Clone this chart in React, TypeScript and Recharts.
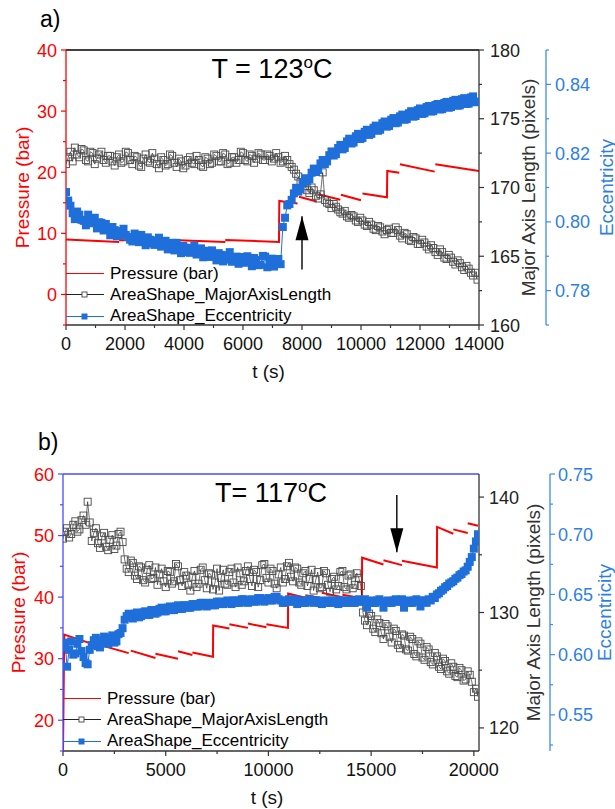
import React from 'react';
import { ComposedChart, Line, XAxis, YAxis, ReferenceLine, ReferenceDot, Legend } from 'recharts';

const RED = '#ff0000';
const DOT_BLUE = '#1f6fdb';
const ECC_BLUE = '#3d8ce8';
const ECC_TEXT = '#2c7fe6';
const DARK = '#333333';
const FRAME_BLUE = '#4b4bff';
const FONT = '"Liberation Sans", Arial, Helvetica, sans-serif';

// ---------- a) T = 123 ºC ----------
const timeA = [
  0, 75, 150, 225, 300, 375, 450, 525, 600, 675, 750, 825, 900, 975, 1050, 1125, 1200, 1275, 1350, 1425,
  1500, 1575, 1650, 1725, 1800, 1875, 1950, 2025, 2100, 2175, 2250, 2325, 2400, 2475, 2550, 2625, 2700, 2775, 2850, 2925,
  3000, 3075, 3150, 3225, 3300, 3375, 3450, 3525, 3600, 3675, 3750, 3825, 3900, 3975, 4050, 4125, 4200, 4275, 4350, 4425,
  4500, 4575, 4650, 4725, 4800, 4875, 4950, 5025, 5100, 5175, 5250, 5325, 5400, 5475, 5550, 5625, 5700, 5775, 5850, 5925,
  6000, 6075, 6150, 6225, 6300, 6375, 6450, 6525, 6600, 6675, 6750, 6825, 6900, 6975, 7050, 7125, 7200, 7275, 7350, 7425,
  7500, 7575, 7650, 7725, 7800, 7875, 7950, 8025, 8100, 8175, 8250, 8325, 8400, 8475, 8550, 8625, 8700, 8775, 8850, 8925,
  9000, 9075, 9150, 9225, 9300, 9375, 9450, 9525, 9600, 9675, 9750, 9825, 9900, 9975, 10050, 10125, 10200, 10275, 10350, 10425,
  10500, 10575, 10650, 10725, 10800, 10875, 10950, 11025, 11100, 11175, 11250, 11325, 11400, 11475, 11550, 11625, 11700, 11775, 11850, 11925,
  12000, 12075, 12150, 12225, 12300, 12375, 12450, 12525, 12600, 12675, 12750, 12825, 12900, 12975, 13050, 13125, 13200, 13275, 13350, 13425,
  13500, 13575, 13650, 13725, 13800, 13875, 13950,
];
const lengthA = [
  171.7, 172.2, 172.6, 171.9, 172.9, 172.4, 172.2, 172.8, 172.7, 172.0, 171.9, 172.6, 172.5, 171.7, 172.1, 172.4, 172.6, 172.0, 171.8, 172.3,
  172.3, 171.9, 171.6, 172.2, 172.4, 171.8, 171.9, 172.6, 172.5, 172.0, 171.7, 172.3, 172.2, 171.6, 171.5, 172.1, 172.4, 171.9, 171.8, 172.5,
  172.1, 171.7, 171.4, 172.2, 172.0, 171.6, 171.7, 172.4, 172.3, 171.8, 171.5, 172.1, 171.9, 171.4, 171.6, 172.0, 172.2, 171.8, 171.7, 172.3,
  172.0, 171.6, 171.5, 172.2, 172.1, 171.7, 171.8, 172.4, 172.3, 171.9, 171.9, 172.5, 172.4, 171.7, 171.8, 172.2, 172.2, 171.8, 172.0, 172.6,
  172.5, 172.0, 171.9, 172.4, 172.3, 171.8, 172.1, 172.5, 172.4, 172.0, 172.0, 172.4, 172.3, 171.9, 172.1, 172.5, 172.2, 171.8, 171.9, 172.3,
  172.0, 171.7, 171.5, 171.3, 171.0, 170.8, 170.4, 170.3, 170.1, 169.8, 169.6, 170.0, 169.8, 169.4, 169.2, 169.5, 171.1, 169.1, 168.9, 168.8,
  168.5, 168.8, 168.6, 168.4, 168.2, 168.1, 168.3, 167.9, 167.8, 168.0, 167.9, 167.6, 167.5, 167.8, 167.6, 167.3, 167.2, 167.5, 167.3, 167.0,
  166.9, 167.2, 167.1, 166.8, 166.6, 166.9, 167.0, 166.7, 166.7, 167.1, 166.9, 166.5, 166.3, 166.7, 166.6, 166.2, 166.1, 166.4, 166.3, 165.9,
  165.9, 166.2, 166.0, 165.7, 165.5, 165.8, 165.6, 165.3, 165.1, 165.5, 165.3, 164.9, 164.8, 165.1, 164.9, 164.6, 164.4, 164.7, 164.5, 164.2,
  164.0, 164.3, 164.1, 163.8, 163.6, 163.8, 163.3,
];
const eccA = [
  0.8087, 0.8062, 0.8047, 0.8025, 0.8008, 0.803, 0.8021, 0.8006, 0.8003, 0.799, 0.8021, 0.801, 0.7996, 0.8012, 0.7981, 0.7999, 0.7997, 0.7975, 0.7994, 0.7978,
  0.7961, 0.7985, 0.7976, 0.7958, 0.796, 0.7973, 0.798, 0.7962, 0.7956, 0.7948, 0.7943, 0.7966, 0.7962, 0.7941, 0.7962, 0.795, 0.7932, 0.7955, 0.7948, 0.7937,
  0.7933, 0.7946, 0.7954, 0.7928, 0.7933, 0.7945, 0.792, 0.7931, 0.7939, 0.7917, 0.7939, 0.7926, 0.7909, 0.793, 0.7925, 0.7912, 0.791, 0.7924, 0.7931, 0.7905,
  0.791, 0.7923, 0.7897, 0.7908, 0.7916, 0.7898, 0.7917, 0.7902, 0.7888, 0.7909, 0.7904, 0.7885, 0.789, 0.7903, 0.7912, 0.7884, 0.7891, 0.7899, 0.7878, 0.7893,
  0.7898, 0.7881, 0.79, 0.7887, 0.7871, 0.7895, 0.7889, 0.7874, 0.7875, 0.7901, 0.7899, 0.7868, 0.788, 0.7893, 0.787, 0.7884, 0.7892, 0.7877, 0.7985, 0.8012,
  0.8048, 0.8052, 0.8064, 0.8083, 0.8099, 0.8088, 0.8095, 0.8115, 0.8127, 0.8117, 0.8124, 0.8143, 0.8155, 0.8145, 0.8151, 0.817, 0.818, 0.8168, 0.8176, 0.8194,
  0.8205, 0.8193, 0.8197, 0.8215, 0.8224, 0.8211, 0.8215, 0.8234, 0.8242, 0.8228, 0.8231, 0.8249, 0.8256, 0.8241, 0.8244, 0.8262, 0.8268, 0.8253, 0.8256, 0.8274,
  0.828, 0.8265, 0.8268, 0.8287, 0.8292, 0.8277, 0.8279, 0.8297, 0.8302, 0.8287, 0.8289, 0.8307, 0.8312, 0.8297, 0.8299, 0.8316, 0.8322, 0.8306, 0.8308, 0.8325,
  0.833, 0.8314, 0.8316, 0.8334, 0.8337, 0.8321, 0.8322, 0.834, 0.8343, 0.8327, 0.8328, 0.8346, 0.8349, 0.8332, 0.8334, 0.8352, 0.8355, 0.8338, 0.8339, 0.8357,
  0.836, 0.8343, 0.8344, 0.8362, 0.8365, 0.8348, 0.835,
];
// null breaks the pressure trace between the sawtooth pieces
const presTimeA = [
  0, 1800, 1800, 1800, 3600, 3600, 3600, 5400, 5400, 5400, 7220, 7230, 7850, 7850, 7900, 8500, 8500,
  8550, 9300, 9300, 9320, 10000, 10000, 10050, 10880, 10890, 11300, 11300, 11320, 12500, 12500, 12520, 14000,
];
const presA = [
  9.0, 8.6, null, 8.9, 8.5, null, 8.9, 8.6, null, 8.9, 8.6, 15.3, 14.9, null, 16.0, 15.2, null,
  16.4, 15.5, null, 16.3, 15.4, null, 16.5, 15.9, 20.2, 19.9, null, 21.3, 20.1, null, 21.3, 20.2,
];
const xTicksA = [0, 1000, 2000, 3000, 4000, 5000, 6000, 7000, 8000, 9000, 10000, 11000, 12000, 13000, 14000];
const xLabelsA = [0, 2000, 4000, 6000, 8000, 10000, 12000, 14000];
const presTicksA = [-5, 0, 5, 10, 15, 20, 25, 30, 35, 40];
const presLabelsA = [0, 10, 20, 30, 40];
const lenTicksA = [160, 162.5, 165, 167.5, 170, 172.5, 175, 177.5, 180];
const lenLabelsA = [160, 165, 170, 175, 180];
const eccTicksA = [0.77, 0.78, 0.79, 0.8, 0.81, 0.82, 0.83, 0.84, 0.85];
const eccLabelsA = [0.78, 0.8, 0.82, 0.84];

// ---------- b) T = 117 ºC ----------
const timeB = [
  0, 100, 200, 300, 400, 500, 600, 700, 800, 900, 1000, 1100, 1200, 1300, 1400, 1500, 1600, 1700, 1800, 1900,
  2000, 2100, 2200, 2300, 2400, 2500, 2600, 2700, 2800, 2900, 3000, 3100, 3200, 3300, 3400, 3500, 3600, 3700, 3800, 3900,
  4000, 4100, 4200, 4300, 4400, 4500, 4600, 4700, 4800, 4900, 5000, 5100, 5200, 5300, 5400, 5500, 5600, 5700, 5800, 5900,
  6000, 6100, 6200, 6300, 6400, 6500, 6600, 6700, 6800, 6900, 7000, 7100, 7200, 7300, 7400, 7500, 7600, 7700, 7800, 7900,
  8000, 8100, 8200, 8300, 8400, 8500, 8600, 8700, 8800, 8900, 9000, 9100, 9200, 9300, 9400, 9500, 9600, 9700, 9800, 9900,
  10000, 10100, 10200, 10300, 10400, 10500, 10600, 10700, 10800, 10900, 11000, 11100, 11200, 11300, 11400, 11500, 11600, 11700, 11800, 11900,
  12000, 12100, 12200, 12300, 12400, 12500, 12600, 12700, 12800, 12900, 13000, 13100, 13200, 13300, 13400, 13500, 13600, 13700, 13800, 13900,
  14000, 14100, 14200, 14300, 14400, 14500, 14600, 14700, 14800, 14900, 15000, 15100, 15200, 15300, 15400, 15500, 15600, 15700, 15800, 15900,
  16000, 16100, 16200, 16300, 16400, 16500, 16600, 16700, 16800, 16900, 17000, 17100, 17200, 17300, 17400, 17500, 17600, 17700, 17800, 17900,
  18000, 18100, 18200, 18300, 18400, 18500, 18600, 18700, 18800, 18900, 19000, 19100, 19200, 19300, 19400, 19500, 19600, 19700, 19800, 19900,
  20000, 20100, 20200,
];
const lengthB = [
  136.4, 137.0, 137.3, 136.5, 136.8, 137.6, 137.9, 137.0, 137.2, 138.0, 138.4, 137.6, 139.6, 137.8, 136.2, 136.9, 137.3, 136.0, 135.6, 136.6,
  136.9, 135.7, 135.4, 136.3, 136.7, 135.5, 135.8, 136.8, 137.0, 136.1, 134.6, 133.8, 133.5, 134.5, 134.3, 133.2, 132.9, 134.0, 133.9, 132.8,
  132.6, 133.7, 134.1, 132.9, 133.0, 133.9, 132.4, 133.3, 133.8, 132.7, 132.2, 133.6, 133.5, 132.5, 132.7, 134.2, 134.0, 132.8, 132.3, 133.5,
  133.2, 132.4, 131.9, 133.1, 133.6, 132.2, 132.5, 133.7, 133.9, 132.8, 132.1, 133.4, 133.3, 132.0, 132.6, 133.8, 131.9, 133.0, 133.7, 132.5,
  132.4, 133.5, 133.8, 132.6, 132.2, 133.9, 133.4, 132.4, 132.7, 133.6, 134.0, 132.9, 132.3, 133.7, 133.5, 132.2, 132.8, 134.1, 134.2, 133.0,
  132.6, 133.8, 133.6, 132.5, 132.1, 133.3, 133.9, 132.6, 132.9, 134.0, 134.3, 133.1, 132.7, 133.9, 133.8, 132.6, 132.4, 133.4, 133.6, 132.3,
  132.9, 133.7, 131.9, 132.8, 133.5, 132.1, 132.2, 133.6, 133.4, 132.4, 131.8, 132.9, 133.1, 132.0, 132.3, 133.5, 133.6, 132.2, 132.0, 133.2,
  133.3, 132.1, 132.4, 133.4, 133.0, 132.3, 130.0, 129.3, 128.9, 129.9, 129.7, 128.6, 128.3, 129.4, 129.1, 128.2, 127.7, 129.0, 128.8, 127.9,
  127.4, 128.6, 128.4, 127.2, 126.9, 128.1, 128.0, 126.8, 126.7, 127.9, 127.7, 126.4, 126.2, 127.5, 127.3, 126.1, 125.9, 127.0, 126.8, 125.7,
  125.5, 126.5, 126.2, 125.3, 125.1, 126.0, 125.8, 124.9, 124.7, 125.6, 125.3, 124.5, 124.4, 125.2, 125.0, 124.1, 124.2, 124.9, 124.6, 124.0,
  123.1, 123.4, 122.7,
];
const eccB = [
  0.606, 0.61, 0.59, 0.604, 0.611, 0.6, 0.601, 0.609, 0.613, 0.603, 0.598, 0.593, 0.592, 0.604, 0.608, 0.612, 0.614, 0.607, 0.606, 0.612,
  0.615, 0.61, 0.609, 0.614, 0.616, 0.61, 0.611, 0.617, 0.618, 0.622, 0.629, 0.632, 0.634, 0.631, 0.63, 0.634, 0.635, 0.631, 0.632, 0.635,
  0.636, 0.633, 0.633, 0.637, 0.637, 0.634, 0.635, 0.638, 0.639, 0.636, 0.636, 0.639, 0.64, 0.637, 0.637, 0.64, 0.641, 0.638, 0.638, 0.641,
  0.641, 0.639, 0.639, 0.642, 0.642, 0.64, 0.64, 0.643, 0.643, 0.641, 0.64, 0.643, 0.643, 0.641, 0.641, 0.644, 0.644, 0.642, 0.642, 0.644,
  0.645, 0.643, 0.642, 0.645, 0.645, 0.643, 0.643, 0.646, 0.646, 0.644, 0.643, 0.645, 0.646, 0.644, 0.644, 0.647, 0.647, 0.645, 0.644, 0.646,
  0.647, 0.645, 0.645, 0.648, 0.648, 0.646, 0.645, 0.643, 0.643, 0.645, 0.646, 0.644, 0.644, 0.646, 0.642, 0.644, 0.645, 0.643, 0.643, 0.645,
  0.646, 0.644, 0.643, 0.645, 0.645, 0.643, 0.642, 0.644, 0.645, 0.643, 0.643, 0.645, 0.645, 0.643, 0.642, 0.645, 0.645, 0.643, 0.643, 0.645,
  0.645, 0.643, 0.643, 0.645, 0.646, 0.644, 0.644, 0.646, 0.639, 0.644, 0.645, 0.643, 0.643, 0.645, 0.646, 0.644, 0.639, 0.644, 0.645, 0.643,
  0.643, 0.645, 0.646, 0.644, 0.644, 0.646, 0.639, 0.644, 0.645, 0.643, 0.643, 0.645, 0.646, 0.644, 0.64, 0.645, 0.645, 0.643, 0.646, 0.645,
  0.648, 0.647, 0.65, 0.651, 0.653, 0.654, 0.656, 0.657, 0.659, 0.66, 0.661, 0.663, 0.664, 0.666, 0.667, 0.669, 0.67, 0.673, 0.677, 0.681,
  0.688, 0.694, 0.7,
];
const presTimeB = [
  0, 60, 1600, 1600, 1600, 3200, 3200, 3300, 4500, 4500, 4500, 5600, 5600, 5600, 6300, 6300, 6300, 7300, 7310,
  8100, 8100, 8100, 9000, 9000, 9000, 9900, 9900, 9900, 10950, 10960, 11800, 11800, 11800, 12600, 12600, 12600,
  13600, 13600, 13600, 14550, 14560, 15600, 15600, 15600, 16500, 16500, 16500, 18200, 18210, 19000, 19000, 19000,
  19700, 19700, 19700, 20200,
];
const presB = [
  15.0, 33.9, 32.2, null, 32.4, 30.9, null, 31.3, 30.1, null, 30.8, 30.0, null, 31.2, 30.6, null, 31.0, 30.3, 35.4,
  34.9, null, 35.6, 35.0, null, 35.7, 35.1, null, 35.6, 35.0, 40.6, 39.9, null, 40.3, 39.8, null, 40.7,
  40.0, null, 40.4, 39.8, 46.4, 45.3, null, 46.0, 45.2, null, 45.9, 44.8, 51.4, 50.3, null, 51.0,
  50.4, null, 52.0, 51.6,
];
const xTicksB = [0, 2500, 5000, 7500, 10000, 12500, 15000, 17500, 20000];
const xLabelsB = [0, 5000, 10000, 15000, 20000];
const presTicksB = [15, 20, 25, 30, 35, 40, 45, 50, 55, 60];
const presLabelsB = [20, 30, 40, 50, 60];
const lenTicksB = [120, 125, 130, 135, 140];
const lenLabelsB = [120, 130, 140];
const eccTicksB = [0.525, 0.55, 0.575, 0.6, 0.625, 0.65, 0.675, 0.7, 0.725, 0.75];
const eccLabelsB = [0.55, 0.6, 0.65, 0.7, 0.75];

const legendNames = ['Pressure (bar)', 'AreaShape_MajorAxisLength', 'AreaShape_Eccentricity'];

const zip = (ts: number[], vs: (number | null)[]) => ts.map((t, i) => ({ t, v: vs[i] }));

// tick renderer with short minor ticks and labels only on the major ones
const axisTick =
  (side: 'bottom' | 'left' | 'right', majors: number[], lineColor: string, textColor: string, digits: number, gap: number) =>
  (props: any) => {
    const { x, y, payload } = props;
    const value = payload.value as number;
    const major = majors.some((m) => Math.abs(m - value) < 1e-9);
    const len = major ? 5 : 3;
    const text = value.toFixed(digits);
    if (side === 'bottom') {
      return (
        <g>
          <line x1={x} y1={y} x2={x} y2={y + len} stroke={lineColor} strokeWidth={1.2} />
          {major && (
            <text x={x} y={y + 25} textAnchor="middle" fontSize={18} fill={textColor}>
              {text}
            </text>
          )}
        </g>
      );
    }
    const dir = side === 'left' ? -1 : 1;
    return (
      <g>
        <line x1={x} y1={y} x2={x + dir * len} y2={y} stroke={lineColor} strokeWidth={1.2} />
        {major && (
          <text x={x + dir * gap} y={y + 6.5} textAnchor={side === 'left' ? 'end' : 'start'} fontSize={18} fill={textColor}>
            {text}
          </text>
        )}
      </g>
    );
  };

const sideTitle = (text: string, color: string, dx: number) => (props: any) => {
  const vb = props.viewBox;
  const cx = vb.x + dx;
  const cy = vb.y + vb.height / 2;
  return (
    <text x={cx} y={cy} transform={`rotate(-90 ${cx} ${cy})`} textAnchor="middle" dominantBaseline="central" fontSize={19} fill={color}>
      {text}
    </text>
  );
};

const bottomTitle = (props: any) => {
  const vb = props.viewBox;
  return (
    <text x={vb.x + vb.width / 2 - 4} y={vb.y + 53} textAnchor="middle" fontSize={19} fill="#111">
      t (s)
    </text>
  );
};

const openSquare = (p: any) =>
  p.cy == null ? (
    <g key={p.index} />
  ) : (
    <rect key={p.index} x={p.cx - 3.5} y={p.cy - 3.5} width={7} height={7} fill="none" stroke="#4a4a4a" strokeWidth={0.9} />
  );

const filledSquare = (p: any) =>
  p.cy == null ? <g key={p.index} /> : <rect key={p.index} x={p.cx - 4} y={p.cy - 4} width={8} height={8} fill={DOT_BLUE} />;

const arrowHead = (dir: number) => (p: any) => {
  const { cx, cy } = p;
  const back = cy + dir * 24;
  return <path d={`M${cx},${cy} L${cx - 6.5},${back} L${cx + 6.5},${back} Z`} fill="#000" />;
};

const LegendRows = () => (
  <div style={{ fontSize: 17, color: '#000', fontFamily: FONT }}>
    {legendNames.map((name, i) => (
      <div key={name} style={{ display: 'flex', alignItems: 'center', height: 21.3 }}>
        <svg width={38} height={21} style={{ display: 'block' }}>
          <line x1={0} x2={38} y1={10.5} y2={10.5} stroke={i === 0 ? RED : i === 1 ? '#222' : DOT_BLUE} strokeWidth={1.2} />
          {i === 1 && <rect x={16} y={8} width={5} height={5} fill="#fff" stroke="#444" strokeWidth={0.9} />}
          {i === 2 && <rect x={15.5} y={7.5} width={6} height={6} fill={DOT_BLUE} />}
        </svg>
        <span style={{ marginLeft: 6, whiteSpace: 'nowrap' }}>{name}</span>
      </div>
    ))}
  </div>
);

const panels = [
  {
    top: 0,
    height: 400,
    margin: { top: 50, right: 0, bottom: 25, left: 0 },
    widths: [66, 67, 69],
    xDomain: [0, 14000],
    xTicks: xTicksA,
    xLabels: xLabelsA,
    presDomain: [-5, 40],
    presTicks: presTicksA,
    presLabels: presLabelsA,
    lenDomain: [160, 180],
    lenTicks: lenTicksA,
    lenLabels: lenLabelsA,
    eccDomain: [0.77, 0.85],
    eccTicks: eccTicksA,
    eccLabels: eccLabelsA,
    leftColor: RED,
    frameColor: '#000',
    pres: zip(presTimeA, presA),
    len: zip(timeA, lengthA),
    ecc: zip(timeA, eccA),
    arrow: { t: 8000, tail: 4.1, tip: 12.8, dir: 1 },
    legend: { left: 66, top: 263 },
    titleDx: [22, 49, 60],
    lenGap: 11,
    eccGap: 9,
  },
  {
    top: 400,
    height: 409,
    margin: { top: 74, right: 0, bottom: 8, left: 0 },
    widths: [63, 71, 65],
    xDomain: [0, 20250],
    xTicks: xTicksB,
    xLabels: xLabelsB,
    presDomain: [15, 60],
    presTicks: presTicksB,
    presLabels: presLabelsB,
    lenDomain: [118, 142],
    lenTicks: lenTicksB,
    lenLabels: lenLabelsB,
    eccDomain: [0.52, 0.75],
    eccTicks: eccTicksB,
    eccLabels: eccLabelsB,
    leftColor: FRAME_BLUE,
    frameColor: FRAME_BLUE,
    pres: zip(presTimeB, presB),
    len: zip(timeB, lengthB),
    ecc: zip(timeB, eccB),
    arrow: { t: 16250, tail: 56.6, tip: 47.3, dir: -1 },
    legend: { left: 63, top: 288 },
    titleDx: [18, 54, 54],
    lenGap: 10,
    eccGap: 8,
  },
];

// right axes: "r1" (major axis length) sits next to the plot, "r2" (eccentricity) outside it
function Panel({ cfg }: { cfg: (typeof panels)[number] }) {
  return (
    <div style={{ position: 'absolute', left: 0, top: cfg.top }}>
      <ComposedChart width={615} height={cfg.height} margin={cfg.margin}>
        <XAxis
          dataKey="t"
          type="number"
          domain={cfg.xDomain}
          ticks={cfg.xTicks}
          interval={0}
          allowDataOverflow
          height={50}
          tickSize={0}
          tickMargin={0}
          tickLine={false}
          axisLine={{ stroke: DARK, strokeWidth: 1.3 }}
          tick={axisTick('bottom', cfg.xLabels, DARK, '#111', 0, 0)}
          label={bottomTitle}
        />
        <YAxis
          yAxisId="p"
          orientation="left"
          width={cfg.widths[0]}
          domain={cfg.presDomain}
          ticks={cfg.presTicks}
          interval={0}
          allowDataOverflow
          tickSize={0}
          tickMargin={0}
          tickLine={false}
          axisLine={{ stroke: cfg.leftColor, strokeWidth: 1.3 }}
          tick={axisTick('left', cfg.presLabels, cfg.leftColor, RED, 0, 9)}
          label={sideTitle('Pressure (bar)', RED, cfg.titleDx[0])}
        />
        <YAxis
          yAxisId="r1"
          orientation="right"
          width={cfg.widths[1]}
          domain={cfg.lenDomain}
          ticks={cfg.lenTicks}
          interval={0}
          allowDataOverflow
          tickSize={0}
          tickMargin={0}
          tickLine={false}
          axisLine={{ stroke: DARK, strokeWidth: 1.3 }}
          tick={axisTick('right', cfg.lenLabels, DARK, '#222', 0, cfg.lenGap)}
          label={sideTitle('Major Axis Length (pixels)', DARK, cfg.titleDx[1])}
        />
        <YAxis
          yAxisId="r2"
          orientation="right"
          width={cfg.widths[2]}
          domain={cfg.eccDomain}
          ticks={cfg.eccTicks}
          interval={0}
          allowDataOverflow
          tickSize={0}
          tickMargin={0}
          tickLine={false}
          axisLine={{ stroke: ECC_BLUE, strokeWidth: 1.3 }}
          tick={axisTick('right', cfg.eccLabels, ECC_BLUE, ECC_TEXT, 2, cfg.eccGap)}
          label={sideTitle('Eccentricity', ECC_TEXT, cfg.titleDx[2])}
        />
        <ReferenceLine yAxisId="p" y={cfg.presDomain[1]} stroke={cfg.frameColor} strokeWidth={1.3} />
        <Line
          yAxisId="p"
          data={cfg.pres}
          dataKey="v"
          type="linear"
          stroke={RED}
          strokeWidth={2}
          dot={false}
          activeDot={false}
          isAnimationActive={false}
        />
        <Line
          yAxisId="r1"
          data={cfg.len}
          dataKey="v"
          type="linear"
          stroke="#111"
          strokeWidth={0.6}
          dot={openSquare}
          activeDot={false}
          isAnimationActive={false}
        />
        <Line
          yAxisId="r2"
          data={cfg.ecc}
          dataKey="v"
          type="linear"
          stroke={DOT_BLUE}
          strokeWidth={1}
          dot={filledSquare}
          activeDot={false}
          isAnimationActive={false}
        />
        <ReferenceLine
          yAxisId="p"
          segment={[
            { x: cfg.arrow.t, y: cfg.arrow.tail },
            { x: cfg.arrow.t, y: cfg.arrow.tip },
          ]}
          stroke="#000"
          strokeWidth={1.4}
        />
        <ReferenceDot yAxisId="p" x={cfg.arrow.t} y={cfg.arrow.tip} r={1} shape={arrowHead(cfg.arrow.dir)} />
        <Legend
          layout="vertical"
          align="center"
          verticalAlign="middle"
          content={() => <LegendRows />}
          wrapperStyle={{ left: cfg.legend.left, top: cfg.legend.top, width: 320 }}
        />
      </ComposedChart>
    </div>
  );
}

export default function App() {
  return (
    <div style={{ position: 'absolute', left: 0, top: 0, width: 615, height: 809, fontFamily: FONT, background: '#fff' }}>
      {panels.map((cfg, i) => (
        <Panel key={i} cfg={cfg} />
      ))}
      <svg width={615} height={809} style={{ position: 'absolute', left: 0, top: 0, pointerEvents: 'none' }}>
        <text x={40} y={27} fontSize={23} fill="#000">a)</text>
        <text x={272} y={78} textAnchor="middle" fontSize={27} fill="#000">
          T = 123<tspan dy={-10} fontSize={17}>o</tspan>
          <tspan dy={10}>C</tspan>
        </text>
        <text x={38} y={450} fontSize={23} fill="#000">b)</text>
        <text x={271} y={502} textAnchor="middle" fontSize={27} fill="#000">
          T= 117<tspan dy={-10} fontSize={17}>o</tspan>
          <tspan dy={10}>C</tspan>
        </text>
      </svg>
    </div>
  );
}
